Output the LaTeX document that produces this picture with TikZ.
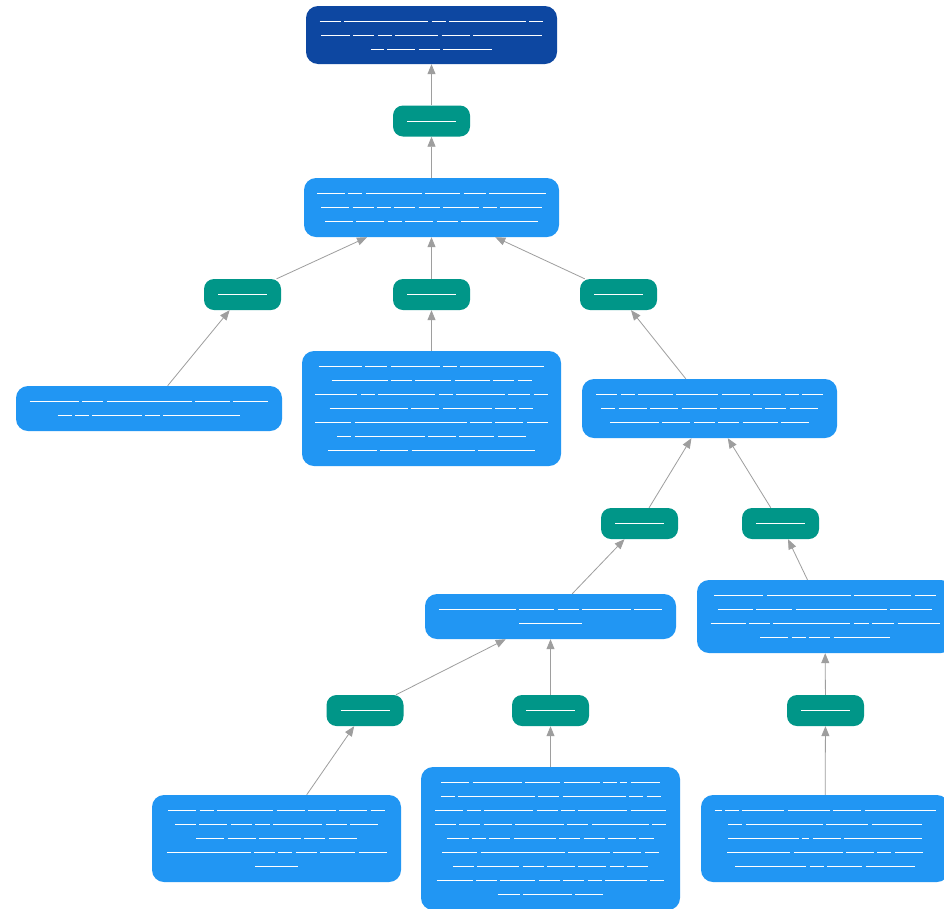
\documentclass[tikz,border=0pt]{standalone}
\usetikzlibrary{arrows.meta}
\definecolor{topblue}{HTML}{0D47A1}
\definecolor{midblue}{HTML}{2196F3}
\definecolor{tealc}{HTML}{009688}
\definecolor{edgegray}{HTML}{9E9E9E}
\newcommand\gl[1]{\foreach \x [count=\i] in {#1}{\ifnum\i>1\hspace{3.4pt}\fi\rule{\x pt}{0.9pt}}}
\tikzset{
  basebox/.style={rounded corners=12pt, inner sep=0pt, align=center, text=white, font=\fontsize{10}{14}\selectfont},
  darkbox/.style={basebox, fill=topblue},
  bluebox/.style={basebox, fill=midblue},
  tealbox/.style={basebox, fill=tealc, rounded corners=10pt, minimum width=77pt, minimum height=31pt},
  edge/.style={draw=edgegray, line width=0.8pt, -{Triangle[length=10pt,width=8pt]}}
}
\begin{document}
\begin{tikzpicture}[x=1pt,y=-1pt]
\fill[white] (0,0) rectangle (944,908);
\useasboundingbox (0,0) rectangle (944,908);

% top node
\node[darkbox, minimum width=251pt, minimum height=58pt] (top) at (431.5,35)
 {\gl{21,84,14,77,14}\\\gl{29,21,14,43,28,69}\\\gl{13,28,21,49}};

% teal labels
\node[tealbox] (t1) at (431.5,121) {\gl{49}};
\node[tealbox] (t2a) at (242.5,294.5) {\gl{49}};
\node[tealbox] (t2b) at (431.5,294.5) {\gl{49}};
\node[tealbox] (t2c) at (618.5,294.5) {\gl{49}};
\node[tealbox] (t3a) at (639.5,523.5) {\gl{49}};
\node[tealbox] (t3b) at (780.5,523.5) {\gl{49}};
\node[tealbox] (t4a) at (365,710.5) {\gl{49}};
\node[tealbox] (t4b) at (550.5,710.5) {\gl{49}};
\node[tealbox] (t4c) at (825.5,710.5) {\gl{49}};

% blue nodes
\node[bluebox, minimum width=255pt, minimum height=59pt] (A) at (431.5,207.5)
 {\gl{28,14,56,35,22,57}\\\gl{28,21,14,21,21,36,14,42}\\\gl{28,28,14,28,21,77}};

\node[bluebox, minimum width=266pt, minimum height=45pt] (B) at (149,408.5)
 {\gl{49,21,85,35,35}\\\gl{14,14,49,15,77}};

\node[bluebox, minimum width=259pt, minimum height=115pt] (C) at (431.5,408.5)
 {\gl{43,22,49,14,84}\\\gl{56,21,36,35,21,14}\\\gl{42,14,57,14,49,22,14}\\\gl{78,28,49,21,14}\\\gl{36,112,22,28,21}\\\gl{14,70,28,35,28}\\\gl{49,28,63,57}};

\node[bluebox, minimum width=255pt, minimum height=59pt] (D) at (709.5,408.5)
 {\gl{21,14,35,42,28,28,14,21}\\\gl{14,28,28,35,42,21,28}\\\gl{49,28,21,21,35,28}};

\node[bluebox, minimum width=251pt, minimum height=45pt] (E) at (550.5,616.5)
 {\gl{77,35,21,49,28}\\\gl{63}};

\node[bluebox, minimum width=256pt, minimum height=73pt] (F) at (825,616.5)
 {\gl{49,84,57,21}\\\gl{35,36,91,42}\\\gl{35,21,77,15,22,42}\\\gl{28,14,21,56}};

\node[bluebox, minimum width=249pt, minimum height=87pt] (G) at (276.5,838.5)
 {\gl{28,14,56,28,28,28,14}\\\gl{21,28,21,15,49,21,28}\\\gl{28,28,42,21,28}\\\gl{84,21,14,21,35,28}\\\gl{43}};

\node[bluebox, minimum width=259pt, minimum height=143pt] (H) at (550.5,838.5)
 {\gl{28,49,35,36,14,7,29}\\\gl{14,77,21,63,14,14}\\\gl{28,14,49,21,14,49,35}\\\gl{21,21,28,49,21,57,14}\\\gl{22,14,21,42,21,21,28,15}\\\gl{35,84,42,28,14}\\\gl{21,42,21,28,28,14,21}\\\gl{36,21,35,21,21,14,42,14}\\\gl{22,49,28}};

\node[bluebox, minimum width=248pt, minimum height=87pt] (I) at (825,838.5)
 {\gl{7,14,42,42,28,71}\\\gl{14,77,42,50}\\\gl{71,7,28,78}\\\gl{63,49,28,14,28}\\\gl{71,14,35,49}};

% edges (child -> parent)
\draw[edge] (t1) -- (top);
\draw[edge] (A) -- (t1);
\draw[edge] (t2a) -- (A);
\draw[edge] (t2b) -- (A);
\draw[edge] (t2c) -- (A);
\draw[edge] (B) -- (t2a);
\draw[edge] (C) -- (t2b);
\draw[edge] (D) -- (t2c);
\draw[edge] (t3a) -- (D);
\draw[edge] (t3b) -- (D);
\draw[edge] (E) -- (t3a);
\draw[edge] (F) -- (t3b);
\draw[edge] (t4a) -- (E);
\draw[edge] (t4b) -- (E);
\draw[edge] (G) -- (t4a);
\draw[edge] (H) -- (t4b);
\draw[edge] (I) -- (t4c);
\draw[edge] (t4c) -- (F);
\end{tikzpicture}
\end{document}
